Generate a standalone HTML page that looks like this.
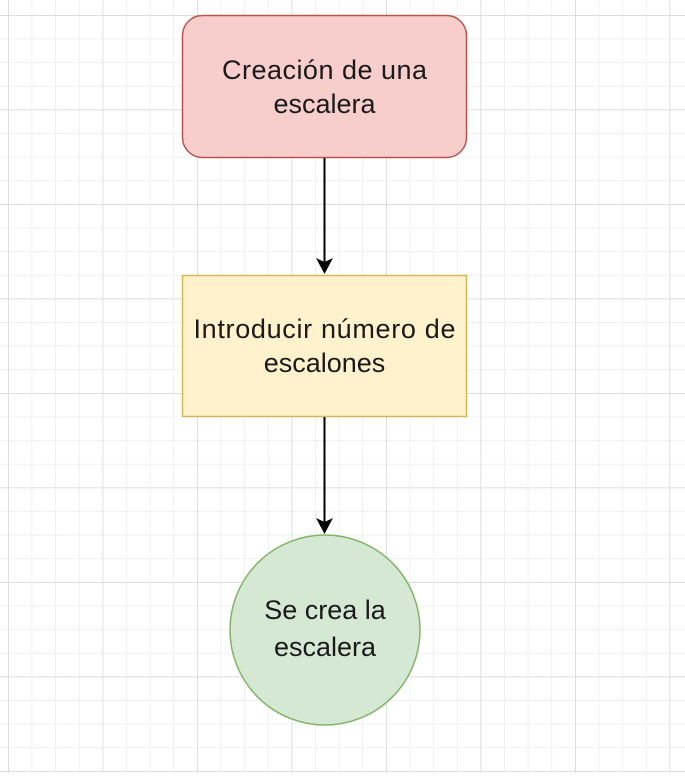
<!DOCTYPE html>
<html><head><style>
html,body{margin:0;padding:0;}
body{width:685px;height:773px;overflow:hidden;background:#fff;}
text{font-family:"Liberation Sans",sans-serif;font-size:27px;fill:#1a1a1a;}
</style></head><body>
<svg width="685" height="773" xmlns="http://www.w3.org/2000/svg">
<defs>
<pattern id="minor" x="8" y="15" width="23.625" height="23.625" patternUnits="userSpaceOnUse">
<path d="M0 0H23.625M0 0V23.625" stroke="#e6e6e6" stroke-width="1.2" fill="none"/>
</pattern>
<pattern id="major" x="8" y="15" width="94.5" height="94.5" patternUnits="userSpaceOnUse">
<path d="M0 0H94.5M0 0V94.5" stroke="#d6d6d6" stroke-width="1.5" fill="none"/>
</pattern>
</defs>
<rect width="685" height="773" fill="url(#minor)"/>
<rect width="685" height="773" fill="url(#major)"/>
<rect x="182.5" y="15.5" width="284" height="142" rx="20" fill="#f8cecc" stroke="#b85450" stroke-width="1.5"/>
<text x="324.5" y="79" text-anchor="middle" textLength="205">Creación de una</text>
<text x="324.5" y="113" text-anchor="middle">escalera</text>
<line x1="324.5" y1="158" x2="324.5" y2="262" stroke="#000" stroke-width="2"/>
<path d="M316 258L324.5 274L333 258L324.5 262Z" fill="#000"/>
<rect x="182.5" y="275.5" width="284" height="141" fill="#fff2cc" stroke="#d6b656" stroke-width="1.5"/>
<text x="324.5" y="338" text-anchor="middle" textLength="262">Introducir número de</text>
<text x="324.5" y="372" text-anchor="middle">escalones</text>
<line x1="324.5" y1="417" x2="324.5" y2="522" stroke="#000" stroke-width="2"/>
<path d="M316 518L324.5 534L333 518L324.5 522Z" fill="#000"/>
<circle cx="325" cy="630" r="95" fill="#d5e8d4" stroke="#82b366" stroke-width="1.5"/>
<text x="325" y="619" text-anchor="middle">Se crea la</text>
<text x="325" y="656" text-anchor="middle">escalera</text>
</svg>
</body></html>
